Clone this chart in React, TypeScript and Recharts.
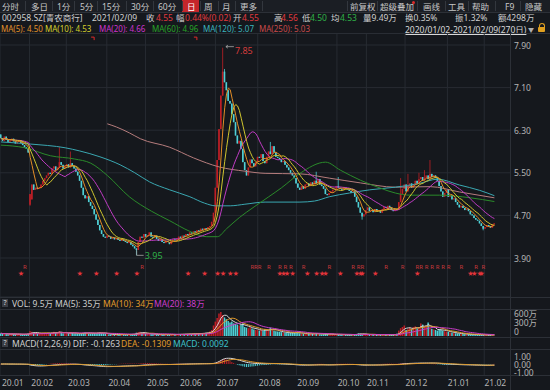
import React from "react";
import {
  ComposedChart,
  Bar,
  Line,
  XAxis,
  YAxis,
  CartesianGrid,
  ReferenceLine,
  ReferenceDot,
  Scatter,
} from "recharts";

// daily closes 2020/01/02 - 2021/02/09 (270 trading days)
const closes = [
  6.15, 6.1, 6.18, 6.12, 6.08, 6.1, 6.14, 6.09, 6.05, 6.08, 6.11, 6.06, 6.02, 5.98, 5.95, 5.88,
  5.1, 5.28, 5.18, 5.22, 5.2,
  5.22, 5.28, 5.35, 5.4, 5.45,
  5.5, 5.48, 5.58, 5.62, 5.55,
  5.6, 5.7, 5.65, 5.58, 5.62,
  5.66, 5.6, 5.68, 5.63, 5.58,
  5.52, 5.45, 5.35, 5.22, 5.08,
  5.02, 5.06, 4.95, 4.88, 4.82,
  4.72, 4.62, 4.52, 4.42, 4.35,
  4.3, 4.28, 4.32, 4.3, 4.26,
  4.28, 4.25, 4.27, 4.24, 4.22,
  4.25, 4.22, 4.2, 4.18, 4.2,
  4.15, 4.12, 4.08, 4.05, 4.2,
  4.3, 4.28, 4.35, 4.3, 4.33,
  4.38, 4.3, 4.28, 4.32, 4.26,
  4.22, 4.25, 4.2, 4.18, 4.22,
  4.2, 4.16, 4.22, 4.25, 4.23,
  4.26, 4.3, 4.28, 4.32, 4.3,
  4.35, 4.33, 4.38, 4.36, 4.4,
  4.38, 4.42, 4.4, 4.45, 4.43,
  4.46, 4.44, 4.48, 4.5, 4.58,
  4.75, 5.22, 5.74, 6.32, 6.95,
  7.4, 7.2, 7.05, 6.85, 6.8,
  6.6, 6.45, 6.2, 6.05, 6.1,
  5.95, 5.7, 5.55, 5.45, 5.6,
  5.75, 5.68, 5.62, 5.7, 5.8,
  5.78, 5.85, 5.72, 5.68, 5.8,
  5.9, 5.85, 6.0, 5.88, 5.8,
  5.78, 5.75, 5.7, 5.72, 5.65,
  5.6, 5.55, 5.5, 5.45, 5.4,
  5.3, 5.22, 5.18, 5.25, 5.2,
  5.28, 5.3, 5.25, 5.32, 5.28,
  5.35, 5.3, 5.38, 5.28, 5.25,
  5.2, 5.1, 5.08, 5.12, 5.15,
  5.18, 5.2, 5.25, 5.22, 5.2,
  5.18, 5.22, 5.2, 5.19, 5.16,
  5.12, 5.15, 5.05, 4.95, 4.85,
  4.75, 4.68, 4.72, 4.8, 4.85,
  4.78, 4.8, 4.76, 4.82, 4.78,
  4.8, 4.75, 4.82, 4.86, 4.84,
  4.88, 4.85, 4.8, 4.78, 4.82,
  4.8, 4.95, 5.1, 5.2, 5.28,
  5.15, 5.25, 5.3, 5.22, 5.28,
  5.35, 5.3, 5.38, 5.42, 5.35,
  5.4, 5.45, 5.38, 5.48, 5.42,
  5.45, 5.4, 5.35, 5.25, 5.15,
  5.05, 5.12, 5.18, 5.05, 5.08,
  5.0, 5.02, 4.95, 4.9, 4.85,
  4.88, 4.84, 4.8, 4.82, 4.78,
  4.72, 4.7, 4.65, 4.62, 4.6,
  4.55, 4.5, 4.45, 4.48, 4.52,
  4.5, 4.47, 4.53, 4.55,
];

// days whose open gapped away from the previous close
const gapOpens: [number, number][] = [[0, 6.22], [16, 4.9], [17, 5.0]];
// visible upper / lower shadows
const wickHighs: [number, number][] = [
  [32, 5.98], [38, 5.9], [121, 7.85], [122, 7.45], [147, 6.08], [172, 5.52],
  [184, 5.42], [218, 5.4], [222, 5.48], [228, 5.5], [231, 5.55], [234, 5.74],
];
const wickLows: [number, number][] = [[16, 4.88], [74, 3.95], [197, 4.62], [263, 4.42]];

// volume, 万
const volumes = [
  90, 70, 85, 60, 55, 65, 70, 60, 55, 50, 60, 55, 50, 60, 65, 80,
  160, 140, 110, 90, 85, 80, 95, 100, 90, 85, 110, 95, 120, 140, 100,
  120, 160, 110, 90, 100, 95, 85, 130, 100, 80, 75, 70, 80, 95, 110,
  120, 100, 90, 85, 95, 100, 90, 110, 120, 100, 90, 70, 60, 55, 50,
  50, 45, 55, 50, 45, 50, 48, 45, 50, 55, 60, 65, 70, 110, 130,
  140, 100, 90, 80, 70, 75, 60, 55, 50, 45, 45, 50, 40, 45, 50,
  48, 45, 50, 55, 50, 55, 60, 58, 65, 60, 70, 65, 75, 70, 80,
  75, 85, 80, 90, 95, 100, 110, 120, 150, 200,
  350, 480, 600, 750, 800, 700, 620, 560, 500, 450,
  480, 420, 400, 380, 350, 380, 420, 300, 280, 260, 300, 250, 220, 200, 210,
  180, 200, 170, 220, 190, 210, 280, 230, 180, 160, 150, 140, 130, 120, 110,
  100, 95, 110, 120, 100, 130, 110, 90, 80, 75, 70, 65, 80, 70, 65,
  90, 100, 70, 60, 55, 60, 80, 65, 55, 50, 50, 45, 48, 50, 45,
  40, 42, 45, 40, 38, 40, 45, 55, 70, 90, 80, 60, 55, 50, 48,
  45, 40, 42, 38, 40, 42, 45, 40, 38, 42, 45, 40, 38, 42, 45,
  80, 180, 260, 300, 350, 200, 240, 280, 220, 300, 320, 250, 280, 420, 380,
  300, 340, 450, 260, 240, 220, 200, 180, 230, 210,
  180, 160, 150, 140, 120, 110, 100, 90, 85, 80, 70, 65, 60, 58, 55,
  50, 48, 45, 42, 40, 38, 36, 35, 33, 32, 42, 45, 40, 9.5,
];

// long moving averages: [day, value]
const ma60Pts: [number, number][] = [
  [0, 6.02], [13, 5.97], [27, 5.82], [40, 5.76], [49, 5.68], [58, 5.45], [70, 5.05],
  [82, 4.78], [92, 4.6], [103, 4.4], [112, 4.3], [118, 4.3], [123, 4.45], [130, 4.66],
  [138, 4.86], [146, 5.05], [153, 5.22], [163, 5.49], [177, 5.7], [185, 5.55],
  [196, 5.36], [207, 5.21], [215, 5.12], [223, 5.08], [239, 5.08], [256, 5.03], [269, 4.96],
];
const ma120Pts: [number, number][] = [
  [0, 6.08], [16, 6.04], [35, 5.97], [43, 5.91], [54, 5.8], [65, 5.65], [73, 5.5],
  [81, 5.33], [92, 5.18], [103, 5.05], [111, 4.93], [117, 4.88], [125, 4.88], [133, 4.91],
  [144, 4.95], [163, 4.95], [171, 4.97], [179, 5.05], [190, 5.12], [201, 5.18],
  [215, 5.23], [228, 5.3], [238, 5.38], [250, 5.27], [261, 5.17], [269, 5.07],
];
const ma250Pts: [number, number][] = [
  [58, 6.42], [63, 6.36], [70, 6.25], [76, 6.14], [92, 5.98], [105, 5.78], [119, 5.61],
  [133, 5.53], [144, 5.49], [163, 5.48], [179, 5.4], [196, 5.31], [215, 5.23],
  [234, 5.24], [250, 5.14], [269, 5.03],
];

const monthStarts = [0, 16, 36, 58, 79, 97, 117, 140, 161, 183, 199, 220, 243, 263];
const monthLabels = [
  "20.01", "20.02", "20.03", "20.04", "20.05", "20.06", "20.07",
  "20.08", "20.09", "20.10", "20.11", "20.12", "21.01", "21.02",
];
const priceTicks = [3.9, 4.7, 5.5, 6.3, 7.1, 7.9];
const volTicks = [0, 300, 600];
const macdTicks = [-1, 0, 1];

const rDays = [13, 77, 137, 139, 141, 146, 152, 155, 158, 165, 179, 192, 195, 197, 210, 219, 227, 229, 232, 235, 238, 241, 244, 251, 259, 263];
const starDays = [11, 43, 52, 63, 74, 102, 111, 118, 121, 125, 128, 152, 154, 156, 159, 167, 172, 175, 177, 185, 194, 196, 197, 204, 227, 256, 258, 261, 262];
const flagDays = [50, 106];

const SLOTS = 278;
const BG = "#15181d";
const GRID = "#272b32";
const UP = "#bf1f26";
const DOWN = "#4fd0d6";
const FONT = '"Noto Sans", "Noto Sans CJK SC", sans-serif';
const TXT = "#cfcfcf";
const AXT = "#b4b4b4";

const N = closes.length;
const opens = closes.map((c, i) => (i === 0 ? c : closes[i - 1]));
gapOpens.forEach(([i, v]) => (opens[i] = v));
const highs = closes.map((c, i) => Math.max(c, opens[i]));
const lows = closes.map((c, i) => Math.min(c, opens[i]));
wickHighs.forEach(([i, v]) => (highs[i] = Math.max(highs[i], v)));
wickLows.forEach(([i, v]) => (lows[i] = Math.min(lows[i], v)));

const sma = (arr: number[], n: number) =>
  arr.map((_, i) => {
    const s = Math.max(0, i - n + 1);
    let t = 0;
    for (let k = s; k <= i; k++) t += arr[k];
    return t / (i - s + 1);
  });

const ma5 = sma(closes, 5);
const ma10 = sma(closes, 10);
const ma20 = sma(closes, 20);
const vma5 = sma(volumes, 5);
const vma10 = sma(volumes, 10);
const vma20 = sma(volumes, 20);

const dif: number[] = [];
const dea: number[] = [];
let e12 = closes[0];
let e26 = closes[0];
let d9 = 0;
closes.forEach((c, i) => {
  if (i > 0) {
    e12 += (2 / 13) * (c - e12);
    e26 += (2 / 27) * (c - e26);
  }
  const df = e12 - e26;
  d9 += (2 / 10) * (df - d9);
  dif.push(df);
  dea.push(d9);
});

const toMap = (pts: [number, number][]) => new Map(pts.map(([i, v]) => [i, v]));
const m60 = toMap(ma60Pts);
const m120 = toMap(ma120Pts);
const m250 = toMap(ma250Pts);

const rows = Array.from({ length: SLOTS }, (_, i) => {
  if (i >= N) return { i };
  return {
    i,
    open: opens[i],
    close: closes[i],
    high: highs[i],
    low: lows[i],
    range: [lows[i], highs[i]],
    ma5: ma5[i],
    ma10: ma10[i],
    ma20: ma20[i],
    ma60: m60.get(i),
    ma120: m120.get(i),
    ma250: m250.get(i),
    vol: volumes[i],
    vma5: vma5[i],
    vma10: vma10[i],
    vma20: vma20[i],
    dif: dif[i],
    dea: dea[i],
    macd: 2 * (dif[i] - dea[i]),
    r: rDays.includes(i) ? 3.73 : null,
    star: starDays.includes(i) ? 3.62 : null,
    flag: flagDays.includes(i) ? 8.02 : null,
  };
});

let peakIdx = 0;
let lowIdx = 0;
highs.forEach((h, i) => (h > highs[peakIdx] ? (peakIdx = i) : 0));
lows.forEach((l, i) => (l < lows[lowIdx] ? (lowIdx = i) : 0));

function Candle(props: any) {
  const { x, y, width, height, payload } = props;
  if (!payload || payload.high == null || !isFinite(y)) return null;
  const { open, close, high, low } = payload;
  const color = close > open ? UP : close < open ? DOWN : "#bbbbbb";
  const cx = x + width / 2;
  if (high - low < 1e-9) {
    return <rect x={cx - 0.75} y={y - 0.4} width={1.5} height={0.8} fill={color} />;
  }
  const k = height / (high - low);
  const py = (v: number) => y + (high - v) * k;
  const t = py(Math.max(open, close));
  const b = py(Math.min(open, close));
  return (
    <g>
      <line x1={cx} x2={cx} y1={y} y2={y + height} stroke={color} strokeWidth={0.8} />
      <rect x={cx - 0.8} y={t} width={1.6} height={Math.max(0.8, b - t)} fill={color} />
    </g>
  );
}

function VolBar(props: any) {
  const { x, y, width, height, payload } = props;
  if (!payload || payload.vol == null || !isFinite(y)) return null;
  const c = payload.close >= payload.open ? UP : DOWN;
  return <rect x={x + width / 2 - 0.75} y={y} width={1.5} height={Math.max(0.6, height)} fill={c} />;
}

function MacdBar(props: any) {
  const { x, y, width, height, payload } = props;
  if (!payload || payload.macd == null || !isFinite(y)) return null;
  const top = Math.min(y, y + height);
  return (
    <rect
      x={x + width / 2 - 0.5}
      y={top}
      width={1}
      height={Math.max(0.3, Math.abs(height))}
      fill={payload.macd >= 0 ? UP : DOWN}
    />
  );
}

function RMark(props: any) {
  const { cx, cy, payload } = props;
  if (!payload || payload.r == null) return null;
  return (
    <text x={cx} y={cy} fill="#c8383c" fontSize={6} textAnchor="middle" dominantBaseline="central" fontFamily={FONT}>
      R
    </text>
  );
}

function StarMark(props: any) {
  const { cx, cy, payload } = props;
  if (!payload || payload.star == null) return null;
  return (
    <text x={cx} y={cy} fill="#e4353b" fontSize={5.5} textAnchor="middle" dominantBaseline="central" fontFamily={FONT}>
      ★
    </text>
  );
}

function FlagMark(props: any) {
  const { cx, cy, payload } = props;
  if (!payload || payload.flag == null) return null;
  return <path d={`M${cx - 1.5},${cy - 1.5}h3v3`} stroke="#e02a2a" strokeWidth={1} fill="none" />;
}

function PeakLabel(props: any) {
  const { cx, cy } = props;
  return (
    <g>
      <path d={`M${cx + 3},${cy - 1}h8M${cx + 3},${cy - 1}l2,-1.5M${cx + 3},${cy - 1}l2,1.5`} stroke="#a8a8a8" strokeWidth={0.8} fill="none" />
      <text x={cx + 12} y={cy + 3} fill="#d23c3c" fontSize={9} dominantBaseline="central" fontFamily={FONT}>
        {highs[peakIdx].toFixed(2)}
      </text>
    </g>
  );
}

function LowLabel(props: any) {
  const { cx, cy } = props;
  return (
    <g>
      <path d={`M${cx},${cy - 5}v5h7`} stroke="#a8a8a8" strokeWidth={0.8} fill="none" />
      <text x={cx + 8} y={cy} fill="#2fb048" fontSize={9} dominantBaseline="central" fontFamily={FONT}>
        {lows[lowIdx].toFixed(2)}
      </text>
    </g>
  );
}

function PriceTick(props: any) {
  const { x, y, payload } = props;
  return (
    <text x={x} y={y} fill={AXT} fontSize={8.5} dominantBaseline="central" fontFamily={FONT}>
      {Number(payload.value).toFixed(2)}
    </text>
  );
}

function VolTick(props: any) {
  const { x, y, payload } = props;
  return (
    <text x={x} y={y - 1} fill={AXT} fontSize={8.5} fontFamily={FONT}>
      {payload.value === 0 ? "0" : `${payload.value}万`}
    </text>
  );
}

function MacdTick(props: any) {
  const { x, y, payload } = props;
  return (
    <text x={x} y={y} fill={AXT} fontSize={8.5} dominantBaseline="central" fontFamily={FONT}>
      {Number(payload.value).toFixed(2)}
    </text>
  );
}

function MonthTick(props: any) {
  const { x, y, payload } = props;
  const k = monthStarts.indexOf(Number(payload.value));
  if (k < 0) return null;
  const band = 510 / SLOTS;
  return (
    <text x={x - band / 2 + 2} y={y} fill={AXT} fontSize={8.5} dominantBaseline="central" fontFamily={FONT}>
      {monthLabels[k]}
    </text>
  );
}

const T = ({ x, y, c = TXT, s = 8.5, children, style }: any) => (
  <span
    style={{
      position: "absolute",
      left: x,
      top: y,
      color: c,
      fontSize: s,
      lineHeight: "11px",
      whiteSpace: "nowrap",
      ...style,
    }}
  >
    {children}
  </span>
);

const HLine = ({ y, x = 0, w = 550, c = "#2c3037" }: any) => (
  <div style={{ position: "absolute", left: x, top: y, width: w, height: 1, background: c }} />
);

const leftTabs: [string, number][] = [
  ["分时", 2], ["多日", 31], ["1分", 57], ["5分", 80], ["15分", 102], ["30分", 131],
  ["60分", 158], ["日", 187], ["周", 204], ["月", 222], ["更多", 240],
];
const leftSeps = [25, 52, 74, 97, 126, 153, 182, 200, 218, 235, 262];
const rightTabs: [string, number][] = [
  ["前复权", 350], ["超级叠加", 380], ["画线", 423], ["工具", 448], ["帮助", 472], ["F9", 505], ["隐藏", 525],
];
const rightSeps = [347, 377, 417, 445, 468, 495, 520];

const yAxisBase = {
  orientation: "right" as const,
  width: 40,
  allowDataOverflow: true,
  axisLine: false,
  tickLine: false,
  tickSize: 2,
  tickMargin: 2,
  interval: 0 as const,
};

export default function App() {
  const off = { top: 0, right: 0, bottom: 0, left: 0 };
  return (
    <div
      style={{
        position: "fixed",
        left: 0,
        top: 0,
        width: 550,
        height: 390,
        background: BG,
        overflow: "hidden",
        fontFamily: FONT,
      }}
    >
      {/* toolbar */}
      <div style={{ position: "absolute", left: 0, top: 0, width: 550, height: 12, background: "#1b1e24" }} />
      <div style={{ position: "absolute", left: 182, top: 0, width: 17, height: 12, background: "#c5262b" }} />
      {leftTabs.map(([t, x]) => (
        <T key={t} x={x} y={0.5} s={8.5} c={t === "日" ? "#ffffff" : "#c8c8c8"}>
          {t}
        </T>
      ))}
      {rightTabs.map(([t, x]) => (
        <T key={t} x={x} y={0.5} s={8.5} c="#c8c8c8">
          {t}
        </T>
      ))}
      {[...leftSeps, ...rightSeps].map((x) => (
        <div key={x} style={{ position: "absolute", left: x, top: 1, width: 1, height: 10, background: "#33373e" }} />
      ))}
      <div style={{ position: "absolute", left: 412, top: 1, width: 2.5, height: 2.5, borderRadius: 2, background: "#e02a2a" }} />
      <HLine y={12} />

      {/* quote row */}
      <T x={2} y={11.5}>002958.SZ[青农商行]</T>
      <T x={92} y={11.5}>2021/02/09</T>
      <T x={146} y={11.5}>收</T>
      <T x={156} y={11.5} c="#e0393e">4.55</T>
      <T x={176} y={11.5}>幅</T>
      <T x={185} y={11.5} c="#e0393e">0.44%(0.02)</T>
      <T x={233} y={11.5}>开</T>
      <T x={242} y={11.5} c="#e0393e">4.55</T>
      <T x={274} y={11.5}>高</T>
      <T x={281} y={11.5} c="#e0393e">4.56</T>
      <T x={302} y={11.5}>低</T>
      <T x={310} y={11.5} c="#2fb048">4.50</T>
      <T x={331} y={11.5}>均</T>
      <T x={340} y={11.5} c="#2fb048">4.53</T>
      <T x={363} y={11.5}>量9.49万</T>
      <T x={405} y={11.5}>换0.35%</T>
      <T x={455} y={11.5}>振1.32%</T>
      <T x={498} y={11.5}>额4298万</T>

      {/* MA legend row */}
      <T x={1} y={22.5} s={8} c="#e0922a">MA(5): 4.50</T>
      <T x={45} y={22.5} s={8} c="#d4cf2c">MA(10): 4.53</T>
      <T x={99} y={22.5} s={8} c="#cc33cc">MA(20): 4.66</T>
      <T x={152} y={22.5} s={8} c="#27a327">MA(60): 4.96</T>
      <T x={203} y={22.5} s={8} c="#3cb3bc">MA(120): 5.07</T>
      <T x={259} y={22.5} s={8} c="#c84a4a">MA(250): 5.03</T>
      <T x={405} y={24} s={8.5} c="#d8d8d8" style={{ textDecoration: "underline" }}>
        2020/01/02-2021/02/09(270日)
      </T>
      <T x={528} y={24.5} c="#b0b0b0" s={6}>▼</T>
      <div style={{ position: "absolute", left: 538, top: 27, width: 7, height: 5, background: "#e0a020", borderRadius: 1 }} />
      <div style={{ position: "absolute", left: 539, top: 23, width: 4, height: 4, border: "1px solid #e0a020", borderBottom: "none", borderRadius: "3px 3px 0 0" }} />

      {/* vertical month grid through all panels */}
      <div style={{ position: "absolute", left: 0, top: 33 }}>
        <ComposedChart width={550} height={342} data={rows} margin={{ top: 0, right: 40, bottom: 0, left: 0 }}>
          <XAxis dataKey="i" type="category" hide />
          <YAxis hide domain={[0, 10]} />
          <Line dataKey="close" stroke="none" dot={false} isAnimationActive={false} />
          {monthStarts.map((m) => (
            <ReferenceLine key={m} x={m} position="start" stroke={GRID} strokeWidth={1} />
          ))}
        </ComposedChart>
      </div>

      <HLine y={33} />
      <HLine y={297} />
      <HLine y={309} />
      <HLine y={337} />
      <HLine y={349} />
      <HLine y={375} />
      <div style={{ position: "absolute", left: 510, top: 33, width: 1, height: 357, background: "#2c3037" }} />

      {/* main candlestick panel */}
      <div style={{ position: "absolute", left: 0, top: 33 }}>
        <ComposedChart width={550} height={264} data={rows} margin={off} barCategoryGap="10%">
          <CartesianGrid stroke={GRID} vertical={false} />
          <XAxis dataKey="i" type="category" hide />
          <YAxis {...yAxisBase} domain={[3.1676, 8.1254]} ticks={priceTicks} tick={<PriceTick />} />
          <Bar dataKey="range" shape={<Candle />} isAnimationActive={false} />
          <Line dataKey="ma250" type="monotone" stroke="#b57c7c" strokeWidth={1} dot={false} connectNulls isAnimationActive={false} />
          <Line dataKey="ma120" type="monotone" stroke="#3aa7b1" strokeWidth={1} dot={false} connectNulls isAnimationActive={false} />
          <Line dataKey="ma60" type="monotone" stroke="#2a8a2a" strokeWidth={1} dot={false} connectNulls isAnimationActive={false} />
          <Line dataKey="ma20" stroke="#c03cc4" strokeWidth={1} dot={false} isAnimationActive={false} />
          <Line dataKey="ma10" stroke="#cfc52e" strokeWidth={1} dot={false} isAnimationActive={false} />
          <Line dataKey="ma5" stroke="#e38d26" strokeWidth={1} dot={false} isAnimationActive={false} />
          <Scatter dataKey="r" shape={<RMark />} isAnimationActive={false} />
          <Scatter dataKey="star" shape={<StarMark />} isAnimationActive={false} />
          <Scatter dataKey="flag" shape={<FlagMark />} isAnimationActive={false} />
          <ReferenceDot x={peakIdx} y={highs[peakIdx]} r={0} shape={<PeakLabel />} />
          <ReferenceDot x={lowIdx} y={lows[lowIdx]} r={0} shape={<LowLabel />} />
        </ComposedChart>
      </div>

      {/* VOL header */}
      <div style={{ position: "absolute", left: 2, top: 299, width: 6, height: 8, background: "#3a3d44", color: "#ddd", fontSize: 7, lineHeight: "8px", textAlign: "center" }}>?</div>
      <T x={12} y={297.5} s={8.5}>VOL: 9.5万</T>
      <T x={55} y={297.5} s={8.5}>MA(5): 35万</T>
      <T x={103} y={297.5} s={8.5} c="#e09a2a">MA(10): 34万</T>
      <T x={154} y={297.5} s={8.5} c="#cc3ccc">MA(20): 38万</T>

      {/* volume panel */}
      <div style={{ position: "absolute", left: 0, top: 309 }}>
        <ComposedChart width={550} height={27} data={rows} margin={off} barCategoryGap="10%">
          <XAxis dataKey="i" type="category" hide />
          <YAxis {...yAxisBase} domain={[0, 900]} ticks={volTicks} tick={<VolTick />} />
          <Bar dataKey="vol" shape={<VolBar />} isAnimationActive={false} />
          <Line dataKey="vma5" stroke="#d8d8d8" strokeWidth={1} dot={false} isAnimationActive={false} />
          <Line dataKey="vma10" stroke="#e09a2a" strokeWidth={1} dot={false} isAnimationActive={false} />
          <Line dataKey="vma20" stroke="#c83cc8" strokeWidth={1} dot={false} isAnimationActive={false} />
        </ComposedChart>
      </div>

      {/* MACD header */}
      <div style={{ position: "absolute", left: 2, top: 339, width: 6, height: 8, background: "#3a3d44", color: "#ddd", fontSize: 7, lineHeight: "8px", textAlign: "center" }}>?</div>
      <T x={12} y={337.5} s={8.5}>MACD(12,26,9) DIF: -0.1263</T>
      <T x={121} y={337.5} s={8.5} c="#e09a2a">DEA: -0.1309</T>
      <T x={173} y={337.5} s={8.5} c="#3cc0c8">MACD: 0.0092</T>

      {/* MACD panel + date axis */}
      <div style={{ position: "absolute", left: 0, top: 349 }}>
        <ComposedChart width={550} height={41} data={rows} margin={off} barCategoryGap="10%">
          <XAxis
            dataKey="i"
            type="category"
            interval={0}
            height={15}
            axisLine={false}
            tickLine={false}
            tickSize={0}
            tickMargin={7}
            tick={<MonthTick />}
          />
          <YAxis {...yAxisBase} domain={[-1.375, 1.875]} ticks={macdTicks} tick={<MacdTick />} />
          <Bar dataKey="macd" shape={<MacdBar />} isAnimationActive={false} />
          <Line dataKey="dif" stroke="#d8d8d8" strokeWidth={1} dot={false} isAnimationActive={false} />
          <Line dataKey="dea" stroke="#e09a2a" strokeWidth={1} dot={false} isAnimationActive={false} />
        </ComposedChart>
      </div>
    </div>
  );
}
